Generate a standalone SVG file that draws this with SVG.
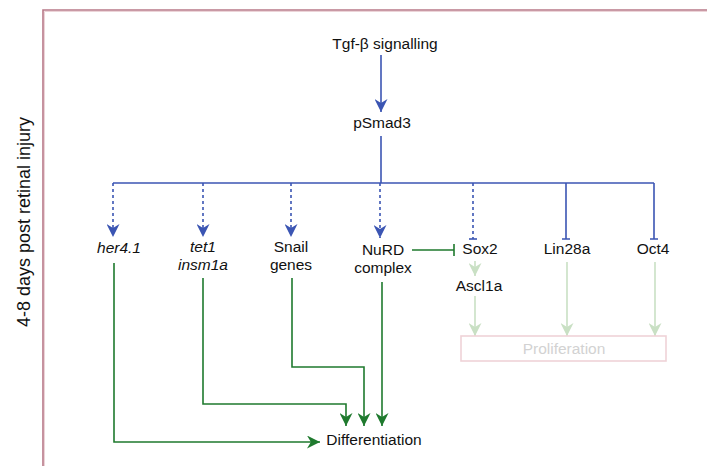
<svg xmlns="http://www.w3.org/2000/svg" width="707" height="466" viewBox="0 0 707 466">
<style>
text{font-family:"Liberation Sans",Arial,sans-serif;font-size:15.5px;fill:#111;text-anchor:middle}
.it{font-style:italic}
.b{stroke:#3b55b3;stroke-width:1.6;fill:none}
.bd{stroke:#3b55b3;stroke-width:1.6;fill:none;stroke-dasharray:3 3}
.g{stroke:#1f7a2e;stroke-width:1.6;fill:none}
.lg{stroke:#c9e0c4;stroke-width:1.6;fill:none}
</style>
<defs>
<marker id="ag" viewBox="0 0 10 10" refX="10" refY="5" markerWidth="13" markerHeight="13" orient="auto" markerUnits="userSpaceOnUse">
<path d="M0,0 L10,5 L0,10 L3,5 Z" fill="#1f7a2e"/></marker>
<marker id="alg" viewBox="0 0 10 10" refX="10" refY="5" markerWidth="13" markerHeight="13" orient="auto" markerUnits="userSpaceOnUse">
<path d="M0,0 L10,5 L0,10 L3,5 Z" fill="#c9e0c4"/></marker>
<marker id="abl" viewBox="0 0 10 10" refX="10" refY="5" markerWidth="13" markerHeight="13" orient="auto" markerUnits="userSpaceOnUse">
<path d="M0,0 L10,5 L0,10 L3,5 Z" fill="#3b55b3"/></marker>
</defs>
<rect width="707" height="466" fill="#fff"/>
<g id="frame" fill="none">
<path d="M43,466 V10 H707" stroke="#b87888" stroke-width="1.6"/>
<path d="M44.5,466 V11.5 H707" stroke="#ecd4d8" stroke-width="1"/>
</g>
<g id="side-label"><text transform="translate(30,222) rotate(-90)" style="font-size:18px">4-8 days post retinal injury</text></g>
<g id="connectors">
<path class="b" d="M381,55 V112" marker-end="url(#abl)"/>
<path class="b" d="M381,136 V183"/>
<path class="b" d="M113,183 H654"/>
<path class="bd" d="M113,183 V237" marker-end="url(#abl)"/>
<path class="bd" d="M203,183 V237" marker-end="url(#abl)"/>
<path class="bd" d="M291,183 V237" marker-end="url(#abl)"/>
<path class="bd" d="M380,183 V238" marker-end="url(#abl)"/>
<path class="bd" d="M473,183 V239"/>
<path class="b" d="M469,239 H477"/>
<path class="b" d="M566,183 V239 M562,239 H570"/>
<path class="b" d="M654,183 V239 M650,239 H658"/>
<path class="g" d="M412,250 H454 M454,244 V256"/>
<path class="lg" d="M475,261 V276" marker-end="url(#alg)"/>
<path class="lg" d="M475,296 V336" marker-end="url(#alg)"/>
<path class="lg" d="M567,262 V336" marker-end="url(#alg)"/>
<path class="lg" d="M655,262 V336" marker-end="url(#alg)"/>
<path class="g" d="M114,263 V442 H320" marker-end="url(#ag)"/>
<path class="g" d="M203,278 V404 H346 V426" marker-end="url(#ag)"/>
<path class="g" d="M292,278 V367 H364 V426" marker-end="url(#ag)"/>
<path class="g" d="M382,282 V426" marker-end="url(#ag)"/>
</g>
<g id="tgf"><text x="385" y="49">Tgf-β signalling</text></g>
<g id="psmad3"><text x="382" y="128">pSmad3</text></g>
<g id="her41"><text class="it" x="119" y="253">her4.1</text></g>
<g id="tet1"><text class="it" x="203" y="252">tet1</text><text class="it" x="203" y="270">insm1a</text></g>
<g id="snail"><text x="291" y="252">Snail</text><text x="291" y="270">genes</text></g>
<g id="nurd"><text x="383" y="255">NuRD</text><text x="383" y="273">complex</text></g>
<g id="sox2"><text x="480" y="254">Sox2</text></g>
<g id="lin28a"><text x="567" y="254">Lin28a</text></g>
<g id="oct4"><text x="653" y="254">Oct4</text></g>
<g id="ascl1a"><text x="479" y="291">Ascl1a</text></g>
<g id="proliferation"><rect x="461" y="336" width="205" height="25" fill="none" stroke="#efd3d7" stroke-width="1.6"/><text x="564" y="354" style="fill:#d2d2d2">Proliferation</text></g>
<g id="differentiation"><text x="374" y="445">Differentiation</text></g>
</svg>
